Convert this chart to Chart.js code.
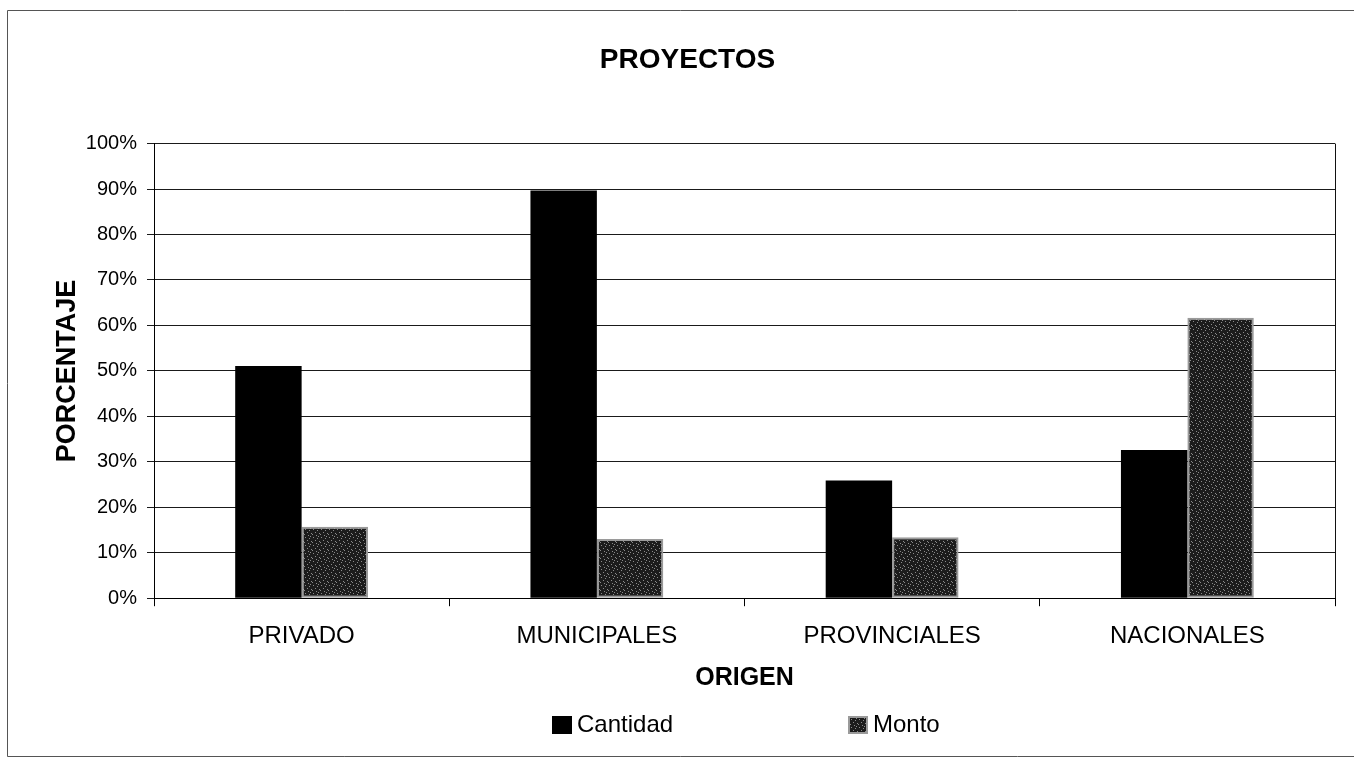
<!DOCTYPE html>
<html>
<head>
<meta charset="utf-8">
<title>Proyectos</title>
<script src="https://cdn.jsdelivr.net/npm/chart.js@4.4.1/dist/chart.umd.min.js"></script>
<style>
  html,body{margin:0;padding:0;background:#fff;}
  #wrap{position:relative;width:1354px;height:761px;}
  #legend{position:absolute;left:0;top:709px;width:1354px;height:30px;
    font:24px 'Liberation Sans',Arial,sans-serif;color:#000;}
  #legend .item{position:absolute;top:0;height:30px;line-height:30px;white-space:nowrap;}
  #legend .box{display:inline-block;width:20px;height:18px;vertical-align:-2px;margin-right:5px;box-sizing:border-box;}
</style>
</head>
<body>
<div id="wrap">
  <canvas id="chart" width="1354" height="761"></canvas>
  <div id="legend"></div>
</div>
<script>
/* data */
const categories = ['PRIVADO','MUNICIPALES','PROVINCIALES','NACIONALES'];
const cantidad = [51.1, 89.7, 25.9, 32.6];
const monto = [15.7, 13.0, 13.4, 61.7];
const yTicks = [0,10,20,30,40,50,60,70,80,90,100];
const seriesNames = ['Cantidad','Monto'];

Chart.defaults.font.family = "'Liberation Sans', Arial, sans-serif";
Chart.defaults.color = '#000';

// speckled dark fill for the Monto bars
function speckleCanvas(){
  const c = document.createElement('canvas');
  c.width = 8; c.height = 8;
  const g = c.getContext('2d');
  g.fillStyle = '#1c1c1c'; g.fillRect(0,0,8,8);
  g.fillStyle = '#8a8a8a';
  [[1,1],[5,2],[3,4],[7,5],[0,6],[4,7],[6,0]].forEach(p=>g.fillRect(p[0],p[1],1,1));
  return c;
}
const tile = speckleCanvas();
const montoFill = tile.getContext('2d').createPattern(tile,'repeat');

// outer frame and right edge of the plot area
const frame = {id:'frame',afterDraw(ch){
  const {ctx, chartArea:a} = ch;
  ctx.save();
  ctx.strokeStyle = '#555'; ctx.lineWidth = 1;
  ctx.beginPath();
  ctx.moveTo(1354,10.5); ctx.lineTo(7.5,10.5); ctx.lineTo(7.5,756.5); ctx.lineTo(1354,756.5);
  ctx.stroke();
  ctx.strokeStyle = '#111';
  ctx.beginPath(); ctx.moveTo(a.right+0.5,a.top); ctx.lineTo(a.right+0.5,a.bottom); ctx.stroke();
  ctx.restore();
}};

const chart = new Chart(document.getElementById('chart'),{
  type:'bar',
  data:{labels:categories,datasets:[
    {label:seriesNames[0],data:cantidad,backgroundColor:'#000',borderWidth:0,
     categoryPercentage:0.45,barPercentage:1.0},
    {label:seriesNames[1],data:monto,backgroundColor:montoFill,borderColor:'#9a9a9a',borderWidth:2,borderSkipped:false,
     categoryPercentage:0.45,barPercentage:1.0}
  ]},
  options:{
    responsive:false,animation:false,
    layout:{padding:{left:40,right:19,top:0,bottom:58}},
    plugins:{
      title:{display:true,text:'PROYECTOS',color:'#000',font:{size:28,weight:'bold'},padding:{top:43,bottom:67}},
      legend:{display:false},
      tooltip:{enabled:false}
    },
    scales:{
      x:{
        grid:{display:true,drawOnChartArea:false,color:'#000',tickLength:8},
        border:{color:'#000',width:1},
        ticks:{font:{size:24},color:'#000',padding:16,maxRotation:0},
        title:{display:true,text:'ORIGEN',font:{size:25,weight:'bold'},color:'#000',padding:{top:-4,bottom:10}}
      },
      y:{
        min:0,max:100,
        afterBuildTicks(s){s.ticks = yTicks.map(v=>({value:v}));},
        afterFit(s){s.width = 114;},
        grid:{color:'#1a1a1a',lineWidth:1,tickLength:7},
        border:{color:'#000',width:1},
        ticks:{font:{size:20},color:'#000',padding:10,callback:v=>v+'%'},
        title:{display:true,text:'PORCENTAJE',font:{size:27,weight:'bold'},color:'#000',padding:{top:11,bottom:0}}
      }
    }
  },
  plugins:[frame]
});

// legend, spread wide under the axis title
const legendX = [552, 848];
const legend = document.getElementById('legend');
chart.data.datasets.forEach((ds,i)=>{
  const item = document.createElement('div');
  item.className = 'item';
  item.style.left = legendX[i]+'px';
  const box = document.createElement('span');
  box.className = 'box';
  if(i===0){ box.style.background = '#000'; }
  else { box.style.background = 'url('+tile.toDataURL()+') repeat'; box.style.border = '2px solid #9a9a9a'; }
  item.appendChild(box);
  item.appendChild(document.createTextNode(ds.label));
  legend.appendChild(item);
});
</script>
</body>
</html>
